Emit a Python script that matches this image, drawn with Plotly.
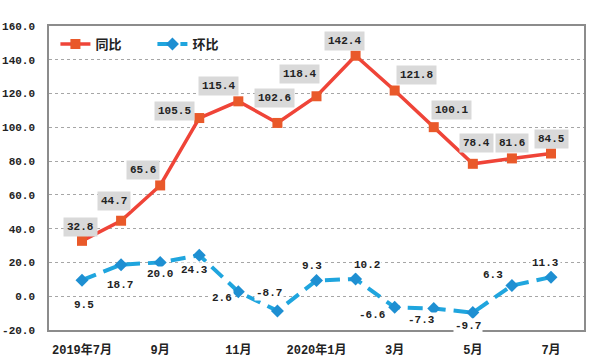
import plotly.graph_objects as go

months = ["2019年7月", "2019年8月", "2019年9月", "2019年10月", "2019年11月", "2019年12月",
          "2020年1月", "2020年2月", "2020年3月", "2020年4月", "2020年5月", "2020年6月", "2020年7月"]
tick_text = ["2019年7月", "", "9月", "", "11月", "", "2020年1月", "", "3月", "", "5月", "", "7月"]
yoy = [32.8, 44.7, 65.6, 105.5, 115.4, 102.6, 118.4, 142.4, 121.8, 100.1, 78.4, 81.6, 84.5]
mom = [9.5, 18.7, 20.0, 24.3, 2.6, -8.7, 9.3, 10.2, -6.6, -7.3, -9.7, 6.3, 11.3]

# label offsets (pixels) – styling only
yoy_dx = [-2, -7, -17, -25, -20, -3, -17, -11, 22, 18, 4, 0, 0]
yoy_dy = [14, 20, 15, 7, 15, 25, 22, 15, 16, 17, 21, 15, 15]
mom_dx = [2, -1, 0, -5, -16, -8, -5, 11, -23, -12, -5, -19, -6]
mom_dy = [-25, -20, -12, -15, -6, 18, 15, 14, -8, -11, -13, 11, 14]

FONT = "Liberation Mono, 'Noto Sans CJK SC', monospace"

fig = go.Figure()
fig.add_trace(go.Scatter(
    x=months, y=yoy, name="<b>同比</b>", mode="lines+markers",
    line=dict(color="#EF4438", width=3.5),
    marker=dict(symbol="square", size=10, color="#E9592A"),
))
fig.add_trace(go.Scatter(
    x=months, y=mom, name="<b>环比</b>", mode="lines+markers",
    line=dict(color="#1FA5DE", width=4, dash="15px,8px"),
    marker=dict(symbol="diamond", size=10, color="#1E8FD2"),
))

annotations = []
for m, v, dx, dy in zip(months, yoy, yoy_dx, yoy_dy):
    annotations.append(dict(x=m, y=v, xref="x", yref="y", text=f"<b>{v:.1f}</b>",
                            showarrow=False, xshift=dx, yshift=dy, bgcolor="#D9D9D9",
                            borderpad=3, font=dict(family=FONT, size=11, color="#222")))
for m, v, dx, dy in zip(months, mom, mom_dx, mom_dy):
    annotations.append(dict(x=m, y=v, xref="x", yref="y", text=f"<b>{v:.1f}</b>",
                            showarrow=False, xshift=dx, yshift=dy, bgcolor="white",
                            borderpad=1, font=dict(family=FONT, size=11, color="#222")))

fig.update_layout(
    width=598, height=359,
    margin=dict(l=49, r=14, t=26, b=29),
    paper_bgcolor="white", plot_bgcolor="white",
    font=dict(family=FONT, size=11, color="#222"),
    showlegend=True,
    legend=dict(orientation="h", x=0.012, y=0.99, xanchor="left", yanchor="top",
                bgcolor="rgba(0,0,0,0)", font=dict(family=FONT, size=13, color="#222"),
                entrywidth=52, entrywidthmode="pixels"),
    annotations=annotations,
)
fig.update_xaxes(
    type="category", tickmode="array", tickvals=months,
    ticktext=[f"<b>{t}</b>" for t in tick_text], automargin=False,
    showline=True, linecolor="#8C8C8C", linewidth=1.5, mirror=True,
    showgrid=False, ticks="outside", ticklen=8, tickcolor="rgba(0,0,0,0)",
    tickfont=dict(family=FONT, size=12, color="#222"),
)
fig.update_yaxes(
    range=[-20, 160], tickmode="array", automargin=False,
    tickvals=[-20, 0, 20, 40, 60, 80, 100, 120, 140, 160],
    ticktext=[f"<b>{v:.1f}</b>" for v in [-20, 0, 20, 40, 60, 80, 100, 120, 140, 160]],
    showline=True, linecolor="#8C8C8C", linewidth=1.5, mirror=True,
    showgrid=True, gridcolor="#A6A6A6", griddash="dot", gridwidth=1,
    zeroline=False, ticks="outside", ticklen=10, tickcolor="rgba(0,0,0,0)",
    tickfont=dict(family=FONT, size=11, color="#222"),
)

fig.write_html("out.html", config={"displayModeBar": False},
               post_script="document.body.style.margin='0';")
